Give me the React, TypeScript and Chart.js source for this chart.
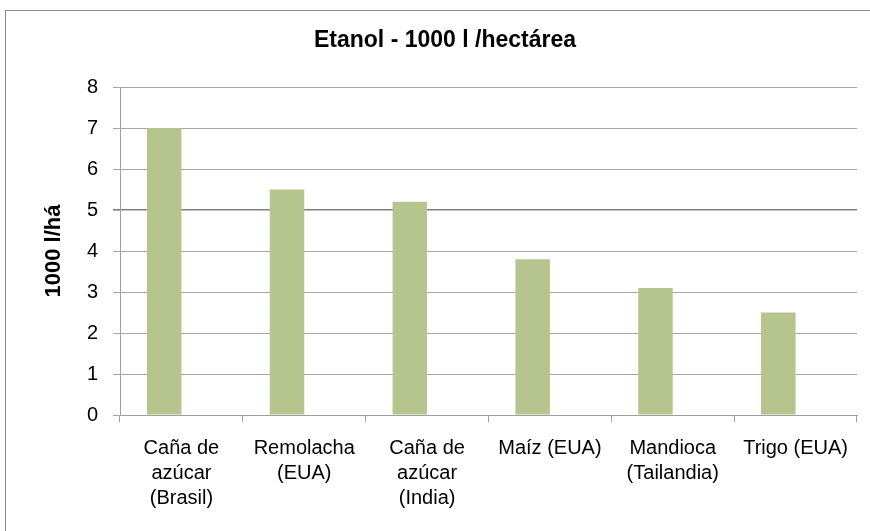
import React, { useEffect, useRef } from "react";
import { Chart, registerables } from "chart.js";

Chart.register(...registerables);

const chartTitle = "Etanol - 1000 l /hectárea";
const yAxisTitle = "1000 l/há";
const categories: string[][] = [
  ["Caña de", "azúcar", "(Brasil)"],
  ["Remolacha", "(EUA)"],
  ["Caña de", "azúcar", "(India)"],
  ["Maíz (EUA)"],
  ["Mandioca", "(Tailandia)"],
  ["Trigo (EUA)"],
];
const etanolValues = [7.0, 5.5, 5.2, 3.8, 3.1, 2.5];
const emptySeries: (number | null)[] = [null, null, null, null, null, null];
const yMin = 0;
const yMax = 8;
const yStep = 1;

const FONT = "'Liberation Sans', Arial, sans-serif";

const framePlugin = {
  id: "frame",
  beforeDraw(chart: any) {
    const ctx = chart.ctx;
    ctx.save();
    ctx.fillStyle = "#ffffff";
    ctx.fillRect(0, 0, chart.width, chart.height);
    ctx.strokeStyle = "#8c8c8c";
    ctx.lineWidth = 1;
    ctx.strokeRect(5.5, 10.5, 1200, 1200);
    ctx.restore();
  },
};

export default function App() {
  const ref = useRef<HTMLCanvasElement | null>(null);

  useEffect(() => {
    document.body.style.margin = "0";
    if (!ref.current) return;
    const chart = new Chart(ref.current, {
      type: "bar",
      data: {
        labels: categories,
        datasets: [
          {
            label: "Etanol",
            data: etanolValues,
            backgroundColor: "rgb(182,196,142)",
            borderWidth: 0,
            categoryPercentage: 0.562,
            barPercentage: 1,
          },
          {
            label: "",
            data: emptySeries,
            backgroundColor: "rgba(0,0,0,0)",
            borderWidth: 0,
            categoryPercentage: 0.562,
            barPercentage: 1,
          },
        ],
      },
      options: {
        responsive: false,
        animation: false,
        devicePixelRatio: 1,
        layout: { padding: { left: 33, right: 13, top: 0, bottom: 0 } },
        plugins: {
          legend: { display: false },
          tooltip: { enabled: false },
          title: {
            display: true,
            text: chartTitle,
            color: "#000000",
            font: { family: FONT, size: 23, weight: "bold" },
            padding: { top: 26.4, bottom: 33 },
          },
        },
        scales: {
          x: {
            afterFit(scale: any) {
              scale.height = 116;
            },
            grid: {
              display: true,
              drawOnChartArea: false,
              drawTicks: true,
              tickLength: 7,
              color: "#a0a0a0",
              offset: true,
            },
            border: { display: true, color: "#a0a0a0" },
            ticks: {
              color: "#000000",
              font: { family: FONT, size: 20, lineHeight: 1.25 },
              padding: 14,
              maxRotation: 0,
              minRotation: 0,
              autoSkip: false,
            },
          },
          y: {
            min: yMin,
            max: yMax,
            afterFit(scale: any) {
              scale.width = 87;
            },
            grid: {
              color: (c: any) => (c.tick && c.tick.value === 5 ? "#7f7f7f" : "#a6a6a6"),
              lineWidth: (c: any) => (c.tick && c.tick.value === 5 ? 1.6 : 1),
              drawTicks: true,
              tickLength: 7,
            },
            border: { display: true, color: "#a0a0a0" },
            ticks: {
              stepSize: yStep,
              color: "#000000",
              font: { family: FONT, size: 20 },
              padding: 15,
            },
            title: {
              display: true,
              text: yAxisTitle,
              color: "#000000",
              font: { family: FONT, size: 22, weight: "bold" },
              padding: { top: 8, bottom: 0 },
            },
          },
        },
      },
      plugins: [framePlugin],
    });
    return () => chart.destroy();
  }, []);

  return (
    <div style={{ position: "absolute", left: 0, top: 0, width: 870, height: 531 }}>
      <canvas ref={ref} width={870} height={531} style={{ width: 870, height: 531 }} />
    </div>
  );
}
